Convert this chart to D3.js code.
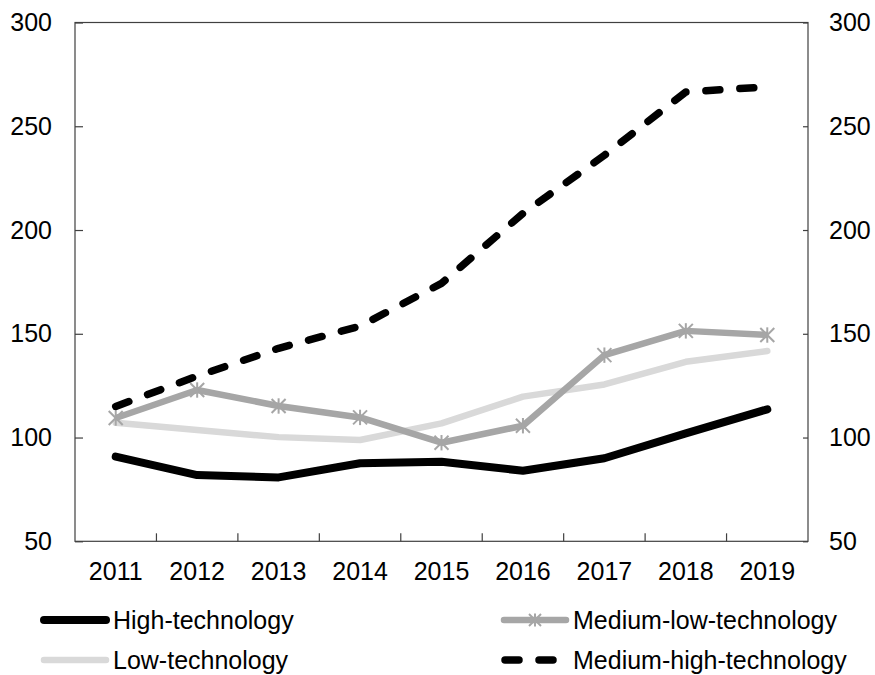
<!DOCTYPE html>
<html>
<head>
<meta charset="utf-8">
<script src="https://cdn.jsdelivr.net/npm/d3@7"></script>
<style>
  html, body { margin: 0; padding: 0; background: #fff; }
  svg { display: block; }
  text { font-family: "Liberation Sans", Arial, sans-serif; fill: #000; }
</style>
</head>
<body>
<svg id="chart" width="875" height="675"></svg>
<script>
const years = ["2011","2012","2013","2014","2015","2016","2017","2018","2019"];
const highTech      = [90.8, 81.9, 80.8, 87.6, 88.3, 84.0, 90.0, 102.0, 113.6];
const mediumLowTech = [109.4, 122.9, 115.2, 109.7, 97.5, 105.7, 139.7, 151.4, 149.4];
const lowTech       = [107.1, 103.6, 100.2, 98.8, 106.8, 119.7, 125.6, 136.5, 141.7];
const mediumHighTech= [115.0, 129.6, 143.0, 153.7, 174.3, 208.0, 236.0, 266.5, 269.0];
const yTicks = [50, 100, 150, 200, 250, 300];
const seriesNames = ["High-technology", "Medium-low-technology", "Low-technology", "Medium-high-technology"];

const svg = d3.select("#chart");
const L = 75, R = 808, T = 22.5, B = 541.3;
const axisColor = "#404040";

const x = d3.scaleBand().domain(years).range([L, R]);
const y = d3.scaleLinear().domain([50, 300]).range([B, T]);

// frame
svg.append("rect").attr("x", L).attr("y", T).attr("width", R - L).attr("height", B - T)
  .attr("fill", "none").attr("stroke", axisColor).attr("stroke-width", 1.2);

// left axis
const gl = svg.append("g").attr("transform", `translate(${L},0)`)
  .call(d3.axisLeft(y).tickValues(yTicks).tickSize(-8).tickPadding(23));
// right axis
const gr = svg.append("g").attr("transform", `translate(${R},0)`)
  .call(d3.axisRight(y).tickValues(yTicks).tickSize(-5).tickPadding(21));
// bottom axis: ticks at category boundaries
const gb = svg.append("g").attr("transform", `translate(0,${B})`)
  .call(d3.axisBottom(x).tickSize(0).tickPadding(21));
const boundaries = years.slice(1).map(d => x(d));
svg.append("g").selectAll("line").data(boundaries).join("line")
  .attr("x1", d => d).attr("x2", d => d).attr("y1", B).attr("y2", B - 8)
  .attr("stroke", axisColor).attr("stroke-width", 1.2);

[gl, gr, gb].forEach(g => {
  g.select(".domain").remove();
  g.selectAll(".tick line").attr("stroke", axisColor).attr("stroke-width", 1.2);
  g.selectAll(".tick text").attr("font-size", 25).attr("font-family", '"Liberation Sans", Arial, sans-serif').attr("fill", "#000");
});

const cx = d => x(d) + x.bandwidth() / 2;
const line = d3.line().x((d, i) => cx(years[i])).y(d => y(d));

const plot = svg.append("g");
// Low technology
plot.append("path").datum(lowTech).attr("d", line)
  .attr("fill", "none").attr("stroke", "#d9d9d9").attr("stroke-width", 6.5)
  .attr("stroke-linejoin", "round").attr("stroke-linecap", "round");
// Medium-low technology
plot.append("path").datum(mediumLowTech).attr("d", line)
  .attr("fill", "none").attr("stroke", "#a6a6a6").attr("stroke-width", 6.5)
  .attr("stroke-linejoin", "round").attr("stroke-linecap", "butt");

function asterisk(g, px, py, s) {
  const a = g.append("g").attr("transform", `translate(${px},${py})`);
  a.append("line").attr("x1", -s).attr("y1", -s).attr("x2", s).attr("y2", s);
  a.append("line").attr("x1", -s).attr("y1", s).attr("x2", s).attr("y2", -s);
  a.append("line").attr("x1", 0).attr("y1", -s * 1.1).attr("x2", 0).attr("y2", s * 1.1);
  a.selectAll("line").attr("stroke", "#a6a6a6").attr("stroke-width", 2);
}
mediumLowTech.forEach((v, i) => asterisk(plot, cx(years[i]), y(v), 7));

// High technology
plot.append("path").datum(highTech).attr("d", line)
  .attr("fill", "none").attr("stroke", "#000").attr("stroke-width", 8)
  .attr("stroke-linejoin", "round").attr("stroke-linecap", "round");
// Medium-high technology
plot.append("path").datum(mediumHighTech).attr("d", line)
  .attr("fill", "none").attr("stroke", "#000").attr("stroke-width", 7.5)
  .attr("stroke-linejoin", "round").attr("stroke-linecap", "round")
  .attr("stroke-dasharray", "14,20");

// legend
const lg = svg.append("g");
const legendItems = [
  { name: seriesNames[0], x: 40, y: 620, stroke: "#000", w: 8, dash: null, marker: false },
  { name: seriesNames[1], x: 500, y: 620, stroke: "#a6a6a6", w: 6.5, dash: null, marker: true },
  { name: seriesNames[2], x: 40, y: 660, stroke: "#d9d9d9", w: 6.5, dash: null, marker: false },
  { name: seriesNames[3], x: 500, y: 660, stroke: "#000", w: 7.5, dash: "14,20", marker: false }
];
legendItems.forEach(it => {
  const l = lg.append("line").attr("x1", it.x + 4).attr("x2", it.x + 66)
    .attr("y1", it.y).attr("y2", it.y)
    .attr("stroke", it.stroke).attr("stroke-width", it.w).attr("stroke-linecap", "round");
  if (it.dash) { l.attr("stroke-dasharray", "14,20").attr("x1", it.x + 5).attr("x2", it.x + 66); }
  if (it.marker) asterisk(lg, it.x + 35, it.y, 6);
  lg.append("text").attr("x", it.x + 73).attr("y", it.y).attr("dy", "0.35em")
    .attr("font-size", 25).text(it.name);
});
</script>
</body>
</html>
